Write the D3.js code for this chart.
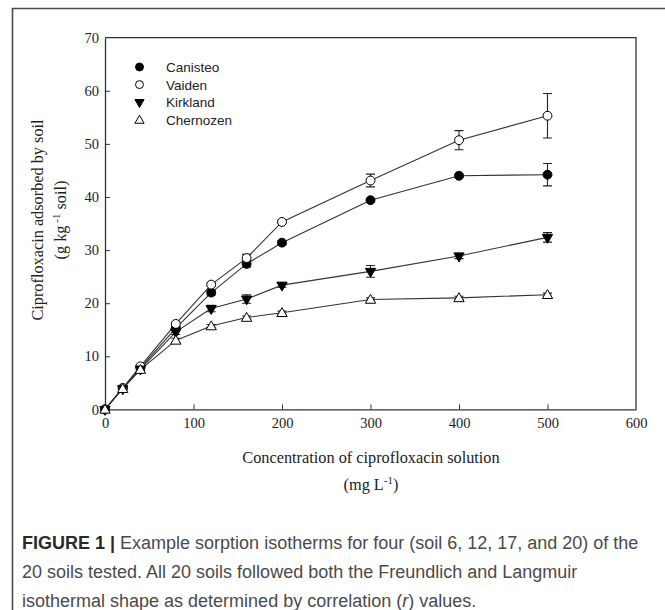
<!DOCTYPE html>
<html>
    <head>
        <meta charset="utf-8">
        <script src="https://d3js.org/d3.v7.min.js"></script>
        <title>Sorption isotherms</title>
        <style>
            body { margin: 0; background-color: #fff }
            svg { display: block }
        </style>
    </head>
    <body>
        <script>
            /* data */
            const conc = [0, 20, 40, 80, 120, 160, 200, 300, 400, 500]
            const canisteo = [0, 4.0, 7.8, 15.3, 22.0, 27.4, 31.4, 39.4, 44.0, 44.2]
            const canisteoErr = [0, 0.3, 0.3, 0.4, 0.5, 0.6, 0.4, 0.3, 0.3, 2.1]
            const vaiden = [0, 4.0, 8.1, 16.1, 23.5, 28.5, 35.3, 43.1, 50.7, 55.3]
            const vaidenErr = [0, 0.3, 0.3, 0.3, 0.3, 0.7, 0.3, 1.2, 1.8, 4.2]
            const kirkland = [0, 3.9, 7.6, 14.6, 19.0, 20.8, 23.4, 26.0, 28.9, 32.4]
            const kirklandErr = [0, 0.3, 0.3, 0.5, 0.6, 0.8, 0.4, 1.1, 0.5, 0.9]
            const chernozen = [0, 3.9, 7.5, 13.0, 15.7, 17.3, 18.2, 20.7, 21.0, 21.6]
            const chernozenErr = [0, 0.3, 0.3, 0.4, 0.3, 0.3, 0.3, 0.3, 0.3, 0.3]

            const seriesNames = ['Canisteo', 'Vaiden', 'Kirkland', 'Chernozen']
            const xTicks = [0, 100, 200, 300, 400, 500, 600]
            const yTicks = [0, 10, 20, 30, 40, 50, 60, 70]

            const captionLines = [
                'Example sorption isotherms for four (soil 6, 12, 17, and 20) of the',
                '20 soils tested. All 20 soils followed both the Freundlich and Langmuir',
                'isothermal shape as determined by correlation (r) values.'
            ]

            /* canvas setup */
            const width = 665
            const height = 610
            const margin = { top: 37.7, right: 29, bottom: 200.6, left: 105 }

            const svg = d3.select('body')
                .append('svg')
                    .attr('width', width)
                    .attr('height', height)

            // figure frame (cut off at right and bottom)
            svg.append('path')
                .attr('d', `M12.5,${height + 5} V8.5 H${width + 5}`)
                .attr('fill', 'none')
                .attr('stroke', '#4a4a4a')
                .attr('stroke-width', 1.6)

            const xScale = d3.scaleLinear().domain([0, 600]).range([margin.left, width - margin.right])
            const yScale = d3.scaleLinear().domain([0, 70]).range([height - margin.bottom, margin.top])

            const serif = '"Liberation Serif", "Times New Roman", serif'
            const sans = '"Liberation Sans", Arial, sans-serif'

            /* axes, ticks point inward */
            const xAxis = svg.append('g')
                .attr('transform', `translate(0,${yScale(0)})`)
                .call(d3.axisBottom(xScale).tickValues(xTicks).tickSizeInner(-5).tickSizeOuter(0).tickPadding(8))
            xAxis.selectAll('.tick line').filter(d => d === 0 || d === 600).remove()

            const yAxis = svg.append('g')
                .attr('transform', `translate(${xScale(0)},0)`)
                .call(d3.axisLeft(yScale).tickValues(yTicks).tickSizeInner(-5).tickSizeOuter(0).tickPadding(6))
            yAxis.selectAll('.tick line').filter(d => d === 0 || d === 70).remove()

            svg.selectAll('.domain').attr('stroke', '#333').attr('stroke-width', 1.3)
            svg.selectAll('.tick line').attr('stroke', '#333')
            svg.selectAll('.tick text')
                .attr('font-family', serif)
                .attr('font-size', 14.5)
                .attr('fill', '#222')

            // top and right frame of the plot
            svg.append('path')
                .attr('d', `M${xScale(0)},${yScale(70)} H${xScale(600)} V${yScale(0)}`)
                .attr('fill', 'none')
                .attr('stroke', '#333')
                .attr('stroke-width', 1.3)

            /* axis titles */
            const xt = svg.append('text')
                .attr('font-family', serif)
                .attr('font-size', 16.3)
                .attr('fill', '#222')
                .attr('text-anchor', 'middle')
            xt.append('tspan').attr('x', 371).attr('y', 463).text('Concentration of ciprofloxacin solution')
            const xt2 = xt.append('tspan').attr('x', 371).attr('y', 490)
            xt2.append('tspan').text('(mg L')
            xt2.append('tspan').attr('font-size', 11).attr('dy', -6).text('-1')
            xt2.append('tspan').attr('dy', 6).text(')')

            const yt = svg.append('text')
                .attr('font-family', serif)
                .attr('font-size', 16.3)
                .attr('fill', '#222')
                .attr('text-anchor', 'middle')
                .attr('transform', 'translate(0,220) rotate(-90)')
            yt.append('tspan').attr('x', 0).attr('y', 43).text('Ciprofloxacin adsorbed by soil')
            const yt2 = yt.append('tspan').attr('x', 0).attr('y', 66)
            yt2.append('tspan').text('(g kg')
            yt2.append('tspan').attr('font-size', 11).attr('dy', -6).text(' -1')
            yt2.append('tspan').attr('dy', 6).text('  soil)')

            /* series */
            const series = [
                { name: seriesNames[0], values: canisteo, err: canisteoErr, shape: 'circle', fill: '#000' },
                { name: seriesNames[1], values: vaiden, err: vaidenErr, shape: 'circle', fill: '#fff' },
                { name: seriesNames[2], values: kirkland, err: kirklandErr, shape: 'down', fill: '#000' },
                { name: seriesNames[3], values: chernozen, err: chernozenErr, shape: 'up', fill: '#fff' }
            ]

            const symbolPath = (shape, k = 1) => {
                if (shape === 'circle') return d3.symbol().type(d3.symbolCircle).size(62 * k)()
                return d3.symbol().type(d3.symbolTriangle).size(46 * k)()
            }
            const symbolTransform = (shape, x, y) => {
                if (shape === 'down') return `translate(${x},${y}) rotate(180)`
                if (shape === 'up') return `translate(${x},${y + 0.8})`
                return `translate(${x},${y})`
            }

            const line = d3.line()
                .x(d => xScale(d[0]))
                .y(d => yScale(d[1]))

            series.forEach(s => {
                const pts = conc.map((c, i) => [c, s.values[i], s.err[i]])
                svg.append('path')
                    .datum(pts)
                    .attr('d', line)
                    .attr('fill', 'none')
                    .attr('stroke', '#333')
                    .attr('stroke-width', 1.1)
            })

            series.forEach(s => {
                const pts = conc.map((c, i) => [c, s.values[i], s.err[i]])
                const g = svg.append('g')
                g.selectAll('path.err')
                    .data(pts.filter(d => d[2] > 0))
                    .join('path')
                        .attr('class', 'err')
                        .attr('d', d => {
                            const x = xScale(d[0])
                            const y1 = yScale(d[1] + d[2])
                            const y2 = yScale(d[1] - d[2])
                            return `M${x - 4.5},${y1} H${x + 4.5} M${x},${y1} V${y2} M${x - 4.5},${y2} H${x + 4.5}`
                        })
                        .attr('fill', 'none')
                        .attr('stroke', '#222')
                        .attr('stroke-width', 1.1)
                g.selectAll('path.mark')
                    .data(pts)
                    .join('path')
                        .attr('class', 'mark')
                        .attr('d', symbolPath(s.shape))
                        .attr('transform', d => symbolTransform(s.shape, xScale(d[0]), yScale(d[1])))
                        .attr('fill', s.fill)
                        .attr('stroke', '#000')
                        .attr('stroke-width', 1)
            })

            /* legend */
            const legend = svg.append('g')
            series.forEach((s, i) => {
                const y = 67 + i * 17.6
                legend.append('path')
                    .attr('d', symbolPath(s.shape, 0.8))
                    .attr('transform', symbolTransform(s.shape, 139.5, y))
                    .attr('fill', s.fill)
                    .attr('stroke', '#000')
                    .attr('stroke-width', 1)
                legend.append('text')
                    .attr('x', 166)
                    .attr('y', y + 5)
                    .attr('font-family', sans)
                    .attr('font-size', 13.5)
                    .attr('fill', '#222')
                    .text(s.name)
            })

            /* caption */
            const cap = svg.append('g')
                .attr('font-family', sans)
                .attr('font-size', 18)
                .attr('fill', '#4a4a4a')
            captionLines.forEach((t, i) => {
                const txt = cap.append('text')
                    .attr('x', 22)
                    .attr('y', 548.5 + i * 29)
                if (i === 0) {
                    txt.append('tspan').attr('font-weight', 'bold').attr('fill', '#2a2a2a').text('FIGURE 1 | ')
                    txt.append('tspan').text(t)
                } else if (i === 2) {
                    const parts = t.split('(r)')
                    txt.append('tspan').text(parts[0] + '(')
                    txt.append('tspan').attr('font-style', 'italic').text('r')
                    txt.append('tspan').text(')' + parts[1])
                } else {
                    txt.text(t)
                }
            })
        </script>
    </body>
</html>
